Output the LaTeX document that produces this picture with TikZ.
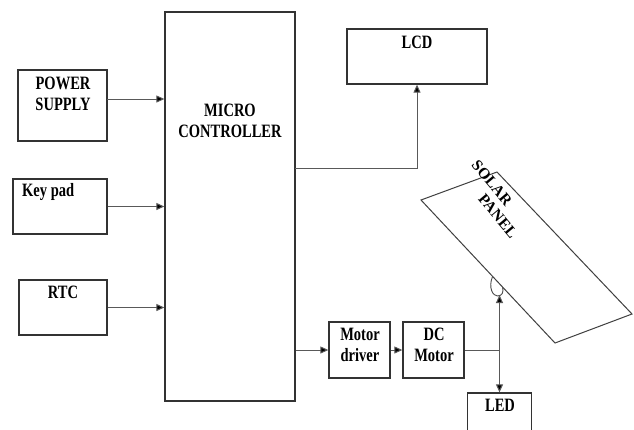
\documentclass[tikz,border=0pt]{standalone}
\usepackage{fontspec}
\setmainfont{Liberation Serif}
\usepackage{graphicx}
\usetikzlibrary{arrows.meta,calc}
\newcommand{\vs}[1]{\scalebox{1}[1.3]{#1}}
\begin{document}
\begin{tikzpicture}[x=1pt,y=-1pt,
  box/.style={draw=black!80,line width=1.3pt,inner sep=0pt,fill=none},
  txt/.style={font=\fontsize{14.5}{21}\selectfont\bfseries,text=black,inner sep=0pt,align=center},
  conn/.style={draw=black!65,line width=1pt},
  arr/.style={conn,-{Triangle[length=8pt,width=7pt,fill=black]}}]
\clip (0,0) rectangle (634,429);
\useasboundingbox (0,0) rectangle (634,429);
\fill[white] (0,0) rectangle (634,429);
% boxes
\node[box,minimum width=89,minimum height=71] (ps) at (62.5,105.5) {};
\node[box,minimum width=94,minimum height=55] (kp) at (60,206.5) {};
\node[box,minimum width=88,minimum height=55] (rtc) at (63,307.5) {};
\node[box,minimum width=130,minimum height=389] (mc) at (230,206.5) {};
\node[box,minimum width=140,minimum height=55] (lcd) at (417,56.5) {};
\node[box,minimum width=61,minimum height=56] (md) at (359.5,350) {};
\node[box,minimum width=61,minimum height=56] (dcm) at (433.5,350) {};
\node[box,minimum width=64,minimum height=50] (led) at (499.5,418) {};
% texts
\node[txt] (pst) at (63,94) {\vs{POWER}\\\vs{SUPPLY}};
\node[txt,anchor=west] (kpt) at (22,192) {\vs{Key pad}};
\node[txt] (rtct) at (63,292) {\vs{RTC}};
\node[txt] (mct) at (230,121) {\vs{MICRO}\\\vs{CONTROLLER}};
\node[txt] (lcdt) at (417,42) {\vs{LCD}};
\node[txt] (mdt) at (360,345) {\vs{Motor}\\\vs{driver}};
\node[txt] (dcmt) at (434,345) {\vs{DC}\\\vs{Motor}};
\node[txt] (ledt) at (500,405) {\vs{LED}};
% solar panel
\coordinate (pL) at (421,200);
\coordinate (pT) at (497,172);
\coordinate (pR) at (632,314);
\coordinate (pB) at (555,343);
\draw[draw=black!75,line width=1pt] (pL) -- (pT) -- (pR) -- (pB) -- cycle;
\node[txt,rotate=-50,font=\fontsize{15.5}{18}\selectfont\bfseries] (solt) at (492,183) {SOLAR};
\node[txt,rotate=-50,font=\fontsize{15.5}{18}\selectfont\bfseries] (pant) at (498,216) {PANEL};
% hinge loop
\coordinate (h1) at (492.5,276.5);
\coordinate (h2) at (502.5,287);
\draw[draw=black!70,line width=0.9pt] (h1) .. controls (488,288) and (493,296) .. (497.5,296) .. controls (502,296) and (504,292) .. (h2);
% connectors
\coordinate (a1) at (107,99);
\draw[arr] (a1) -- (mc.west |- a1);
\draw[arr] (kp.east) -- (mc.west |- kp.east);
\draw[arr] (rtc.east) -- (mc.west |- rtc.east);
\coordinate (c1) at (295,168);
\draw[arr] (c1) -| (lcd.south);
\draw[arr] (mc.east |- md.west) -- (md.west);
\draw[arr] (md.east) -- (dcm.west);
\coordinate (j) at (499.5,350);
\coordinate (tilt) at (499.5,295);
\draw[conn] (dcm.east) -- (j);
\draw[arr] (j) -- (tilt);
\draw[arr] (j) -- (led.north);
\end{tikzpicture}
\end{document}
